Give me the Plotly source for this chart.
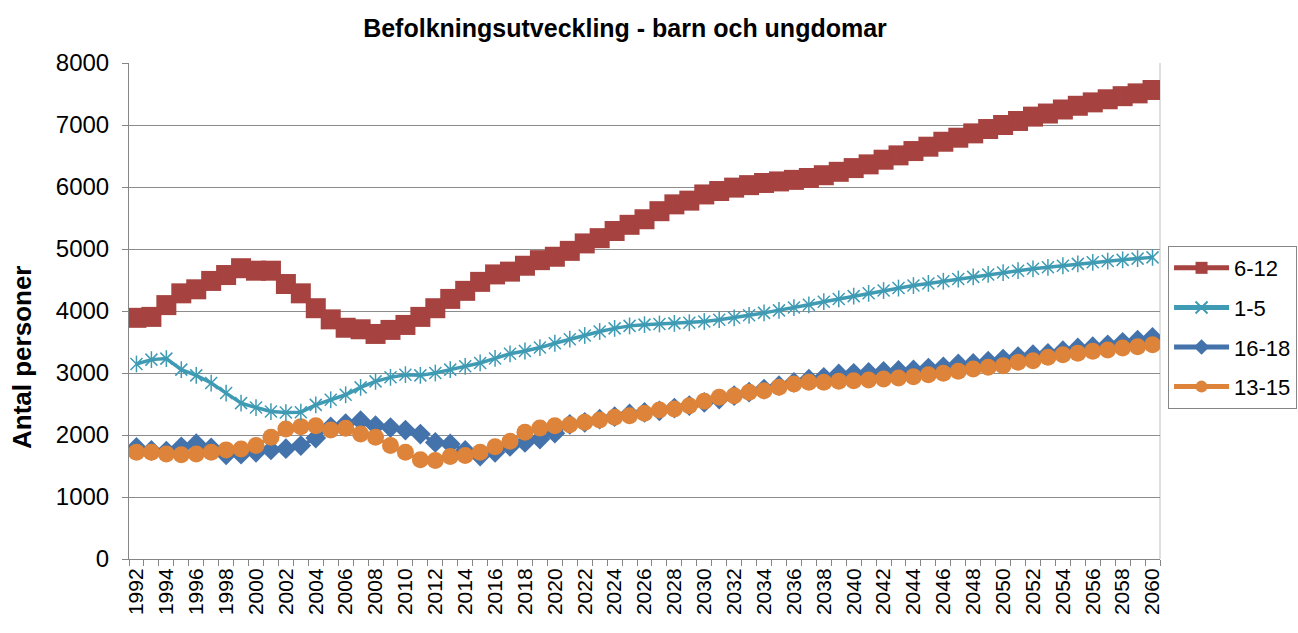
import plotly.graph_objects as go

years = list(range(1992, 2061))

age_6_12 = [3890, 3905, 4095, 4285, 4350, 4485, 4580, 4690, 4650, 4650,
            4435, 4285, 4045, 3865, 3730, 3705, 3630, 3695, 3775, 3905,
            4045, 4195, 4325, 4470, 4590, 4635, 4730, 4820, 4875, 4970,
            5090, 5175, 5290, 5390, 5480, 5610, 5720, 5780, 5880, 5935,
            5990, 6030, 6065, 6090, 6115, 6145, 6190, 6245, 6305, 6365,
            6440, 6510, 6580, 6650, 6730, 6795, 6865, 6935, 7000, 7065,
            7135, 7185, 7250, 7310, 7365, 7415, 7465, 7510, 7565]

age_1_5 = [3146, 3216, 3232, 3054, 2962, 2838, 2676, 2514, 2443, 2378,
           2362, 2368, 2486, 2568, 2649, 2768, 2865, 2930, 2973, 2962,
           3000, 3054, 3108, 3162, 3235, 3310, 3355, 3410, 3480, 3545,
           3605, 3670, 3720, 3760, 3780, 3790, 3800, 3810, 3830, 3860,
           3890, 3930, 3970, 4010, 4055, 4100, 4150, 4195, 4240, 4285,
           4330, 4370, 4410, 4445, 4480, 4515, 4550, 4590, 4620, 4650,
           4680, 4705, 4730, 4760, 4785, 4805, 4825, 4845, 4865]

age_16_18 = [1800, 1750, 1740, 1810, 1860, 1790, 1680, 1690, 1720, 1760,
             1780, 1830, 1950, 2130, 2185, 2230, 2150, 2120, 2080, 2015,
             1880, 1855, 1750, 1660, 1720, 1815, 1880, 1935, 2030, 2170,
             2205, 2255, 2295, 2340, 2365, 2390, 2435, 2475, 2525, 2580,
             2635, 2690, 2740, 2795, 2850, 2900, 2930, 2985, 2995, 3010,
             3025, 3040, 3050, 3080, 3100, 3145, 3155, 3190, 3225, 3265,
             3295, 3315, 3360, 3405, 3425, 3455, 3495, 3530, 3575]

age_13_15 = [1722, 1722, 1695, 1680, 1695, 1722, 1760, 1775, 1830, 1963,
             2095, 2135, 2150, 2080, 2110, 2015, 1963, 1830, 1722, 1600,
             1588, 1652, 1668, 1722, 1810, 1900, 2043, 2113, 2151, 2167,
             2204, 2242, 2285, 2312, 2349, 2403, 2419, 2473, 2543, 2608,
             2634, 2688, 2715, 2769, 2823, 2849, 2850, 2866, 2876, 2887,
             2903, 2919, 2941, 2973, 2995, 3027, 3065, 3091, 3118, 3172,
             3199, 3253, 3296, 3317, 3349, 3371, 3403, 3425, 3457]

tick_years = list(range(1992, 2061, 2))
tick_labels = [str(y) for y in tick_years]

RED = "#A6423F"
TEAL = "#3F9BB3"
BLUE = "#4472AA"
ORANGE = "#DD833A"

fig = go.Figure()

fig.add_trace(go.Scatter(
    x=years, y=age_16_18, name="16-18", mode="lines+markers",
    line=dict(color=BLUE, width=3.5),
    marker=dict(symbol="diamond", size=16, color=BLUE),
    legendgroup="g3", legendrank=3))

fig.add_trace(go.Scatter(
    x=years, y=age_13_15, name="13-15", mode="lines+markers",
    line=dict(color=ORANGE, width=3.5),
    marker=dict(symbol="circle", size=17, color=ORANGE),
    legendgroup="g4", legendrank=4))

fig.add_trace(go.Scatter(
    x=years, y=age_1_5, name="1-5", mode="lines+markers",
    line=dict(color=TEAL, width=3.5),
    marker=dict(symbol="x-thin-open", size=12, color=TEAL,
                line=dict(color=TEAL, width=1.5)),
    legendgroup="g2", legendrank=2))

fig.add_trace(go.Scatter(
    x=years, y=age_1_5, name="1-5", mode="markers", showlegend=False,
    marker=dict(symbol="line-ns-open", size=12, color=TEAL,
                line=dict(color=TEAL, width=1.5)),
    legendgroup="g2", hoverinfo="skip"))

fig.add_trace(go.Scatter(
    x=years, y=age_6_12, name="6-12", mode="lines+markers",
    line=dict(color=RED, width=3.5),
    marker=dict(symbol="square", size=20, color=RED),
    legendgroup="g1", legendrank=1))

fig.update_layout(
    width=1298, height=633,
    margin=dict(l=129, r=138, t=63, b=74, autoexpand=False),
    paper_bgcolor="white", plot_bgcolor="white",
    font=dict(family="Liberation Sans, Arial, sans-serif", color="black"),
    title=dict(text="<b>Befolkningsutveckling - barn och ungdomar</b>",
               x=625 / 1298, xref="container", xanchor="center",
               y=1 - 28 / 633, yref="container", yanchor="middle",
               font=dict(size=25, color="black")),
    showlegend=True,
    legend=dict(x=1.0078, xanchor="left", y=0.631, yanchor="top",
                bordercolor="#868686", borderwidth=1,
                font=dict(size=22, color="black"),
                traceorder="grouped", tracegroupgap=8,
                itemwidth=55, itemsizing="constant"),
    shapes=[dict(type="line", xref="paper", yref="paper", x0=1, x1=1, y0=0, y1=1,
                 line=dict(color="#BFBFBF", width=1), layer="below")],
    annotations=[dict(text="<b>Antal personer</b>", textangle=-90,
                      xref="paper", yref="paper",
                      x=(22 - 129) / 1031, y=(559 - 357) / 496,
                      xanchor="center", yanchor="middle", showarrow=False,
                      font=dict(size=26, color="black"))],
)

fig.update_xaxes(
    range=[1991.5, 2060.5], automargin=False,
    tickvals=tick_years, ticktext=tick_labels, tickangle=-90,
    tickfont=dict(size=21, color="black"),
    ticks="", showgrid=False, zeroline=False,
    showline=True, linecolor="#868686", linewidth=1,
    minor=dict(tickmode="linear", tick0=1991.5, dtick=1, ticks="outside",
               ticklen=6, tickcolor="#868686", showgrid=False),
)

fig.update_yaxes(
    range=[0, 8000], tickvals=list(range(0, 8001, 1000)), automargin=False,
    tickfont=dict(size=24, color="black"),
    ticks="outside", ticklen=6, tickcolor="#868686", ticklabelstandoff=8,
    showgrid=True, gridcolor="#8C8C8C", gridwidth=1,
    zeroline=False, showline=True, linecolor="#868686", linewidth=1,
)

fig.write_html("out.html", config={"displayModeBar": False},
               post_script="document.body.style.margin='0';")
